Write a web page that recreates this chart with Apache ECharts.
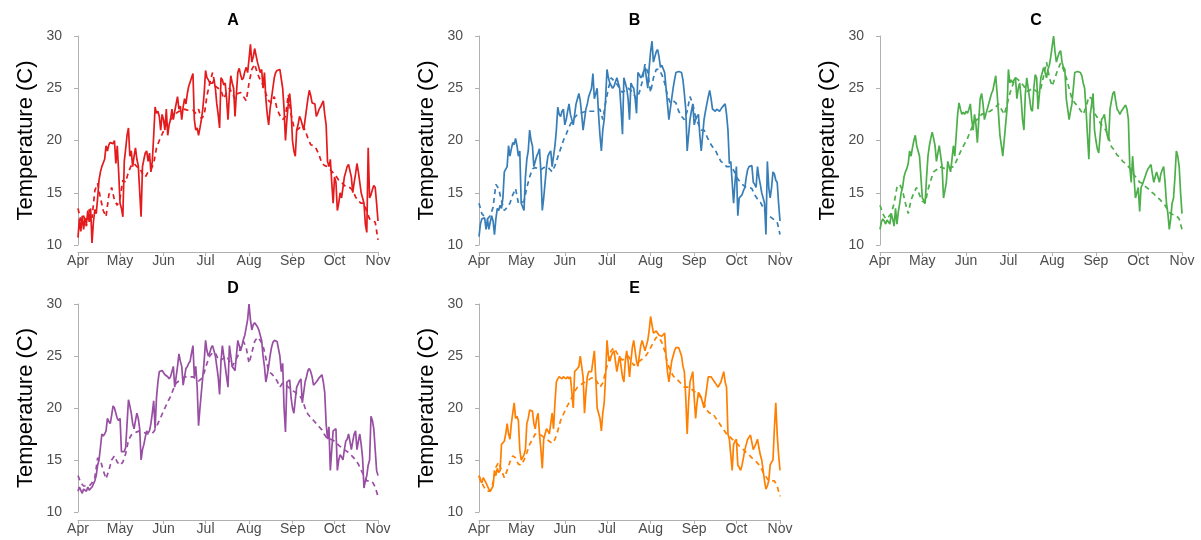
<!DOCTYPE html>
<html>
<head>
<meta charset="utf-8">
<script src="https://cdn.jsdelivr.net/npm/echarts@6/dist/echarts.min.js"></script>
<style>
html,body{margin:0;padding:0;background:#fff;}
#chart{width:1201px;height:540px;}
</style>
</head>
<body>
<div id="chart"></div>
<script>
// ---- data ----
const MONTH_DAYS = [0, 30, 61, 91, 122, 153, 183, 214]; // days since 1 April
const MONTH_LABELS = ['Apr', 'May', 'Jun', 'Jul', 'Aug', 'Sep', 'Oct', 'Nov'];
const SOLID_STEP_DAYS = 1;  // daily readings from 1 April
const DASHED_STEP_DAYS = 2; // every second day from 1 April
const PANEL_TITLES = ['A', 'B', 'C', 'D', 'E'];
const Y_AXIS_TITLE = 'Temperature (C)';

const solidA = [
  10.7, 12.5, 11.3, 12.8, 11.5, 12.6, 12.0, 13.3, 12.2, 13.5,
  10.2, 12.2, 13.4, 13.0, 14.5, 16.2, 17.0, 17.5, 17.5, 18.2,
  19.5, 19.0, 19.6, 19.8, 19.9, 19.7, 20.0, 17.8, 19.5, 17.0,
  14.0, 13.5, 12.7, 18.0, 19.2, 20.5, 21.2, 18.5, 19.0, 17.5,
  18.5, 19.3, 18.2, 17.6, 17.5, 12.7, 17.5, 18.2, 18.8, 19.0,
  18.0, 18.8, 17.0, 18.0, 20.5, 23.2, 22.6, 22.8, 22.3, 21.0,
  22.5, 22.0, 21.0, 23.0, 20.5, 21.5, 22.0, 23.0, 22.0, 22.8,
  23.5, 24.2, 23.0, 23.3, 22.0, 23.2, 24.0, 23.5, 24.5, 25.2,
  25.6, 26.0, 26.4, 22.0, 21.0, 21.2, 20.5, 21.2, 22.0, 23.0,
  24.5, 26.7, 26.0, 25.8, 25.5, 25.6, 25.5, 25.8, 25.0, 23.5,
  22.5, 21.2, 26.0, 25.8, 25.3, 25.5, 24.0, 22.0, 24.5, 26.2,
  25.5, 25.0, 22.3, 24.5, 26.5, 26.9, 26.3, 25.8, 26.0, 26.6,
  27.0, 26.5, 27.8, 29.2, 27.5, 28.0, 28.8, 28.8, 27.5, 27.0,
  26.5, 26.8, 25.0, 26.5, 24.0, 22.5, 21.5, 23.0, 24.0, 25.0,
  26.0, 26.5, 26.7, 26.8, 26.8, 26.7, 25.0, 23.0, 20.0, 22.0,
  23.5, 24.5, 23.0, 20.0, 19.0, 18.5, 21.0, 21.5, 22.3, 22.0,
  21.5, 21.0, 22.0, 23.0, 24.0, 24.8, 24.3, 23.6, 23.7, 23.5,
  22.3, 22.6, 23.0, 23.2, 23.5, 23.8, 22.5, 21.5, 18.0, 17.5,
  18.2, 16.0, 14.0, 16.5, 16.0, 13.3, 14.0, 15.0, 14.5, 15.5,
  16.5, 17.0, 17.5, 17.7, 17.8, 16.5, 15.0, 16.0, 16.8, 17.8,
  17.0, 16.0, 15.0, 14.5, 14.0, 12.0, 11.2, 19.3, 14.5, 14.8,
  15.3, 15.7, 15.5, 14.0, 12.3
];
const dashedA = [
  13.5, 12.3, 12.8, 11.8, 13.4, 12.6, 15.2, 15.9, 14.5, 13.3,
  12.7, 14.8, 15.5, 14.3, 13.8, 14.5, 16.2, 16, 17, 17.6,
  17.8, 17.5, 17.4, 16.8, 16.5, 17, 17.2, 17.8, 19.3, 20,
  20.6, 21.2, 21.8, 22, 22.3, 22.6, 22.8, 22.8, 23, 22.9,
  22.9, 22.9, 22.6, 23, 22.1, 22.4, 24.3, 25.5, 26.5, 25.2,
  25, 24.8, 24, 24.6, 25, 24.5, 24, 24.5, 24.6, 24.2,
  23.8, 25.5, 26.8, 27.3, 26.4, 25.8, 25.3, 24.5, 23.8, 23.6,
  24.2, 23, 22.4, 22, 22.3, 24.4, 22.5, 21.3, 21, 21.2,
  21.5, 21, 20.2, 19.6, 19.5, 19.2, 18.6, 17.8, 17.6, 17.5,
  17.2, 16.9, 16.6, 16.2, 16, 15.7, 15.5, 15.5, 15.2, 14.6,
  14.2, 14, 14, 13.2, 12.5, 12.3, 12.2, 10.5
];
const solidB = [
  10.8, 12.0, 12.5, 12.4, 12.6, 11.5, 12.5, 11.5, 12.2, 12.8,
  12.3, 11.0, 12.5, 13.5, 13.3, 13.8, 13.5, 14.5, 17.0, 17.0,
  17.5, 19.5, 18.5, 19.2, 19.8, 19.6, 20.2, 19.5, 18.5, 19.0,
  14.0, 14.0, 13.3, 16.5, 18.2, 19.0, 21.0, 20.0, 19.5, 17.5,
  18.0, 18.5, 18.8, 19.2, 17.0, 13.3, 14.5, 16.0, 17.5, 18.5,
  18.8, 19.0, 17.5, 18.5, 19.5, 21.0, 23.2, 22.5, 22.3, 22.8,
  23.0, 21.5, 22.0, 22.8, 23.5, 22.5, 22.0, 21.5, 22.5, 23.5,
  24.0, 24.5, 23.8, 22.5, 21.0, 22.0, 23.0, 23.5, 24.2, 24.6,
  25.0, 26.4, 24.0, 24.5, 25.0, 22.5, 20.5, 19.0, 21.0, 22.0,
  24.0, 26.8, 26.0, 25.5, 25.4, 25.0, 25.2, 25.6, 26.0, 25.5,
  25.0, 23.0, 20.6, 26.0, 25.5, 25.0, 24.0, 22.0, 25.5, 25.2,
  25.0, 24.0, 22.6, 26.5, 26.3, 26.0, 26.2, 26.6, 27.0, 26.0,
  25.0, 27.0, 28.5, 29.5, 27.5, 28.0, 28.5, 28.7, 28.0, 27.0,
  27.2, 27.3, 26.5, 25.0, 23.5, 22.0, 23.0, 24.0, 25.0, 25.8,
  26.5, 26.6, 26.6, 26.5, 26.5, 25.8, 24.5, 23.0, 19.0, 20.5,
  22.0, 22.8, 23.5, 21.5, 22.0, 22.3, 22.5, 20.5, 19.0, 20.5,
  22.0, 22.8, 23.5, 24.2, 24.8, 24.0, 23.0, 23.0, 22.8, 23.0,
  23.0, 22.8, 23.0, 23.2, 23.3, 23.5, 22.5, 21.0, 17.8, 18.0,
  16.0, 14.0, 16.0, 17.5, 12.8, 14.5, 14.5, 14.8, 15.2, 15.5,
  16.5, 17.2, 17.5, 17.6, 17.6, 16.0, 15.8, 15.5, 17.5, 16.5,
  15.8, 15.0, 14.5, 14.0, 11.0, 18.0, 15.5, 14.5, 15.5, 17.0,
  16.8, 16.2, 16.0, 14.0, 12.3
];
const dashedB = [
  14, 13, 12.7, 12.5, 12.8, 13.6, 15.8, 15.4, 14.2, 13.3,
  13.6, 14, 14.8, 15.4, 14, 14, 14.2, 15.5, 16.5, 17.3,
  17.4, 17.3, 17.2, 17.4, 17.5, 17.3, 17, 17.6, 18.4, 19.2,
  20, 20.6, 21.3, 21.8, 22.2, 22.5, 22.6, 22.7, 22.8, 22.8,
  22.8, 22.8, 22.9, 23, 22, 23.6, 25, 26, 25.7, 25.4,
  25, 24.6, 24.8, 25, 24.8, 24.4, 24, 24.6, 25.6, 27.3,
  26.5, 24.6, 26, 26.8, 26.8, 26.3, 25.5, 24.3, 23.6, 23.8,
  23.6, 22.8, 22.3, 22, 22.8, 24.2, 23.5, 22.2, 21.6, 21,
  21, 20.4, 19.8, 19.4, 19.1, 18.5, 18, 17.8, 17.5, 17.5,
  17.4, 16.9, 16.3, 16, 15.7, 15.5, 15.5, 15.4, 14.8, 14.4,
  14.1, 13.6, 13, 12.8, 12.6, 12.4, 12.2, 11
];
const solidC = [
  11.5, 12.2, 12.5, 12.3, 12.0, 12.4, 12.5, 12.0, 13.0, 12.5,
  11.8, 13.5, 12.0, 13.2, 14.0, 15.0, 15.5, 16.5, 17.0, 17.3,
  17.8, 19.0, 18.5, 19.3, 20.0, 20.5, 19.5, 19.0, 18.5, 16.5,
  14.5, 14.3, 14.0, 16.5, 18.5, 19.5, 20.2, 20.8, 20.2, 19.5,
  18.0, 18.8, 19.5, 19.5, 17.5, 14.5, 15.2, 16.0, 18.0, 17.5,
  17.0, 18.2, 19.5, 18.5, 20.5, 22.5, 23.6, 23.0, 22.5, 22.7,
  22.5, 22.8, 22.6, 23.0, 23.5, 22.0, 21.0, 22.5, 21.5, 19.8,
  22.0, 24.0, 24.5, 23.5, 22.0, 22.5, 23.0, 23.5, 24.0, 24.5,
  24.8, 25.5, 26.2, 24.5, 22.5, 20.5, 19.5, 18.5, 20.0, 21.5,
  23.0, 26.8, 25.5, 25.8, 25.5, 25.8, 26.0, 24.0, 25.0, 25.5,
  24.0, 22.0, 21.0, 24.5, 26.0, 25.0, 24.0, 23.0, 22.8, 25.0,
  26.3, 26.0, 23.0, 24.5, 26.0, 26.5, 27.0, 26.5, 26.0, 26.8,
  27.2, 28.0, 29.0, 30.0, 28.5, 27.5, 28.0, 28.4, 28.6, 27.5,
  27.0, 26.8, 24.0, 23.0, 22.0, 22.8, 23.5, 25.0, 26.5, 26.6,
  26.6, 26.5, 26.5, 26.2, 25.5, 25.0, 23.0, 20.5, 18.2, 22.5,
  23.5, 24.5, 21.0, 20.0, 19.2, 18.8, 20.5, 22.0, 22.2, 22.5,
  21.5, 20.5, 20.0, 23.0, 23.8, 24.5, 24.7, 23.8, 23.0, 22.8,
  22.5, 22.8, 23.0, 23.2, 23.4, 23.0, 22.0, 17.5, 16.0, 18.5,
  16.5, 14.5, 15.0, 15.5, 13.2, 15.5, 15.8, 16.2, 16.6, 17.0,
  17.3, 17.5, 17.7, 16.8, 16.0, 16.5, 17.0, 16.5, 16.0, 16.8,
  17.2, 17.5, 16.0, 14.0, 13.0, 11.5, 12.5, 14.0, 14.5, 16.5,
  19.0, 18.5, 17.5, 15.0, 13.0
];
const dashedC = [
  13.8, 13, 12.5, 12.7, 13, 14, 15.5, 15.8, 15.2, 14,
  13, 14.3, 15, 15.5, 14.8, 14.2, 14, 15.3, 16.2, 17,
  17.2, 17.5, 17.4, 17.3, 17.3, 17.4, 17.5, 18, 18.6, 19.2,
  19.7, 20.2, 20.9, 21.5, 21.9, 22.2, 22.5, 22.6, 22.7, 22.8,
  23, 23.2, 23.5, 23, 22.5, 23.4, 24.5, 25.3, 26, 25.8,
  25.5, 25.2, 24.7, 24.8, 25, 24.8, 24.6, 25, 26.2, 27.5,
  26, 25.2, 26, 26.8, 27.4, 26.8, 26, 25, 24, 23.6,
  23.3, 22.9, 22.5, 23.2, 24.2, 24, 22.6, 22.2, 21.7, 21.3,
  21, 20.3, 19.4, 19.1, 18.6, 18.4, 18, 17.8, 17.5, 17.2,
  16.7, 16.4, 16, 15.9, 15.6, 15.4, 15.1, 14.9, 14.6, 14.4,
  14.1, 13.8, 13.3, 13, 12.9, 12.8, 12.5, 11.5
];
const solidD = [
  12.0, 12.4, 12.3, 11.8, 12.2, 12.3, 12.0, 12.4, 12.1, 12.2,
  12.4, 12.5, 13.0, 13.5, 14.5, 15.0, 16.2, 17.5, 17.3, 17.5,
  17.8, 19.0, 18.7, 18.5, 19.3, 20.2, 20.0, 19.5, 19.0, 18.8,
  19.0, 15.8, 15.7, 15.8, 16.2, 18.5, 20.8, 20.2, 19.5, 18.5,
  18.0, 18.8, 19.5, 19.0, 18.0, 15.0, 16.0, 16.5, 17.2, 17.8,
  17.6, 17.8, 18.5, 19.5, 20.7, 18.0, 21.0, 22.5, 23.5, 23.4,
  23.6, 23.5, 23.2, 23.2, 23.0, 22.8, 23.0, 23.5, 24.0, 22.0,
  23.0, 24.0, 25.2, 24.5, 24.0, 22.2, 23.0, 23.8, 24.0, 24.3,
  24.5, 25.3, 26.0, 23.0, 24.0, 22.0, 18.3, 20.0, 21.5, 23.0,
  24.5, 26.5, 25.5, 25.0, 25.3, 25.8, 26.0, 25.5, 25.0, 24.0,
  23.0, 21.3, 24.5, 26.0, 25.0, 24.0, 23.0, 22.0, 26.0, 25.0,
  24.0, 23.8, 23.6, 23.5, 26.5, 26.0, 25.5, 26.0, 26.6, 27.0,
  27.0, 28.5, 30.0, 28.5, 27.5, 28.0, 28.2, 28.0, 27.8, 27.5,
  27.0, 26.5, 25.0, 24.0, 22.5, 23.2, 24.0, 25.0, 25.8, 26.3,
  26.5, 26.5, 26.4, 26.4, 25.0, 23.5, 24.3, 20.0, 17.7, 22.5,
  22.6, 22.7, 21.0, 20.0, 19.5, 20.8, 22.0, 22.3, 22.6, 22.8,
  20.5, 21.5, 22.5, 23.0, 23.6, 23.8, 23.5, 23.0, 22.2, 22.3,
  22.5, 22.7, 22.9, 23.0, 23.2, 22.5, 21.5, 18.5, 17.0, 18.2,
  14.0, 16.0, 17.8, 17.9, 18.0, 14.0, 15.0, 15.5, 15.3, 15.0,
  16.0, 16.8, 17.0, 17.5, 16.8, 16.0, 16.8, 17.5, 17.8, 16.0,
  16.8, 17.5, 16.5, 15.2, 12.3, 13.0, 13.5, 14.5, 15.0, 19.2,
  18.8, 18.0, 16.0, 14.0, 13.5
];
const dashedD = [
  13.5, 12.8, 12.5, 12.5, 12.5, 12.8, 13.3, 15.2, 15, 14,
  13.2, 14, 15, 15.4, 14.8, 14.5, 14.8, 15.6, 16.9, 17.4,
  17.6, 17.7, 17.8, 17.7, 17.6, 17.5, 17.5, 17.7, 18.2, 18.8,
  19.4, 20, 20.6, 21.1, 21.8, 22.4, 22.6, 22.8, 23, 23,
  23, 23, 22.8, 22.6, 22.8, 23.4, 24.3, 25, 25.3, 25.3,
  24.7, 24.6, 24.8, 25, 24.5, 24, 24.5, 25, 25.8, 26.4,
  25.8, 24.3, 25.3, 26.4, 26.8, 26.5, 26, 24.8, 23.5, 23.3,
  23, 22.6, 22, 22.4, 22.3, 22, 21.8, 21.6, 21.4, 21.2,
  20.8, 20, 19.4, 19.1, 18.8, 18.5, 18.2, 17.9, 17.4, 17,
  17, 16.9, 16.7, 16.4, 16.2, 16, 15.8, 15.6, 15.3, 15,
  14.6, 14, 13.5, 13, 13, 12.9, 12.4, 11.5
];
const solidE = [
  13.5, 13.0, 12.8, 13.3, 13.2, 12.8, 12.5, 12.2, 12.0, 12.0,
  12.5, 14.0, 13.5, 14.2, 13.8, 14.0, 16.5, 16.6, 16.8, 17.5,
  18.5, 17.5, 17.0, 18.5, 19.5, 20.5, 19.0, 19.2, 18.8, 16.0,
  15.0, 15.0, 15.5, 16.0, 18.5, 19.0, 19.8, 19.8, 19.7, 18.5,
  18.0, 19.0, 19.5, 17.5, 16.0, 14.2, 17.0, 17.5, 18.0, 17.8,
  17.5, 18.5, 19.5, 18.0, 20.5, 22.5, 22.8, 23.0, 23.0, 22.8,
  23.0, 23.0, 22.8, 23.0, 22.8, 23.0, 21.5, 20.0, 23.5, 23.5,
  23.8, 24.0, 25.0, 24.0, 23.0, 19.5, 21.5, 23.0, 23.5, 23.5,
  23.5, 24.5, 25.5, 23.0, 20.0, 19.5, 19.0, 17.8, 19.5, 20.5,
  23.0, 26.5, 25.0, 24.5, 25.0, 25.3, 25.5, 24.5, 23.5, 24.3,
  25.0, 24.0, 23.0, 22.5, 24.5, 25.5, 24.5, 23.0, 24.5, 25.8,
  26.5, 25.5, 24.5, 24.0, 25.0, 26.0, 26.5, 26.0, 25.5, 26.0,
  26.5, 27.5, 28.8, 28.0, 27.2, 27.3, 27.4, 27.3, 27.0, 27.0,
  26.9, 26.8, 27.2, 25.0, 23.5, 22.5, 23.5, 24.5, 25.0, 25.5,
  25.8, 25.8, 25.8, 25.8, 25.0, 24.0, 23.5, 21.0, 17.5, 20.5,
  22.5, 23.0, 23.5, 21.0, 19.0, 20.5, 21.5, 21.3, 21.0, 20.5,
  20.0, 21.0, 22.0, 23.0, 23.0, 23.0, 22.8, 22.6, 22.5, 22.2,
  22.0, 22.0, 22.5, 23.0, 23.5, 22.5, 22.0, 17.5, 17.0, 15.5,
  14.0, 16.5, 16.8, 17.0, 14.5, 14.3, 14.0, 14.5, 15.2, 16.0,
  16.5, 17.0, 17.2, 17.4, 17.5, 16.0, 16.3, 16.6, 17.0, 16.2,
  15.5, 15.0, 14.0, 13.0, 12.2, 12.5, 13.0, 14.5, 14.8, 15.0,
  18.0, 20.5, 17.5, 15.5, 14.0
];
const dashedE = [
  13.5, 12.8, 12.3, 12, 12, 12.8, 14.3, 14.8, 14, 13.3,
  14, 14.8, 15.4, 15.2, 14.6, 14.5, 15, 15.7, 16.5, 17,
  17.5, 17.5, 17.4, 17.2, 17, 16.8, 16.6, 17, 17.8, 18.8,
  19.4, 20, 20.5, 21, 21.6, 22, 22.2, 22.4, 22.5, 22.7,
  22.9, 22.9, 22.5, 22, 22.4, 23.5, 24.5, 25.5, 25.8, 25.3,
  24.9, 24.6, 24.8, 25, 24.6, 24.1, 24.3, 24.5, 24.7, 24.9,
  25.3, 25.8, 26.3, 26.8, 26.8, 26.3, 25.5, 24.3, 23.6, 23.1,
  22.8, 22.6, 22.3, 22, 22, 22, 21.7, 21.5, 21.2, 21,
  20.4, 19.8, 19.5, 19.5, 19.1, 18.7, 18.3, 17.9, 17.5, 17.3,
  17, 16.8, 16.5, 16.2, 16, 15.7, 15.5, 15.2, 15, 14.7,
  14.4, 13.8, 13.4, 13, 13, 13, 12.5, 11.5
];

// ---- styling / layout ----
const SOLID = [solidA, solidB, solidC, solidD, solidE];
const DASHED = [dashedA, dashedB, dashedC, dashedD, dashedE];
const COLORS = ['#E41A1C', '#377EB8', '#4DAF4A', '#984EA3', '#FF7F00'];
const FONT = 'Liberation Sans, Arial, Helvetica, sans-serif';
const AXIS_GREY = '#b0b0b0';
const LAYOUT = [
  { left: 78, top: 36, width: 300, height: 209, xOff: 7 },
  { left: 479, top: 36, width: 301, height: 209, xOff: 7 },
  { left: 880, top: 36, width: 302, height: 209, xOff: 7 },
  { left: 78, top: 304, width: 300, height: 208, xOff: 8 },
  { left: 479, top: 304, width: 301, height: 208, xOff: 8 }
];

function toPairs(arr, step) {
  return arr.map((v, i) => [i * step, v]);
}

const grids = [], xAxes = [], yAxes = [], series = [], titles = [];
LAYOUT.forEach((g, i) => {
  grids.push({ left: g.left, top: g.top, width: g.width, height: g.height, containLabel: false });
  titles.push({
    text: PANEL_TITLES[i],
    left: g.left + g.width / 2,
    top: g.top - 28,
    textAlign: 'center',
    textStyle: { fontFamily: FONT, fontSize: 16, fontWeight: 'bold', color: '#000' }
  });
  xAxes.push({
    type: 'value', gridIndex: i, min: MONTH_DAYS[0], max: MONTH_DAYS[MONTH_DAYS.length - 1],
    offset: g.xOff,
    axisLine: { show: true, lineStyle: { color: AXIS_GREY, width: 1 } },
    axisTick: { show: true, length: 4, lineStyle: { color: AXIS_GREY }, customValues: MONTH_DAYS },
    axisLabel: {
      customValues: MONTH_DAYS, margin: 2, color: '#4d4d4d', fontFamily: FONT, fontSize: 14,
      formatter: (v) => MONTH_LABELS[MONTH_DAYS.indexOf(Math.round(v))]
    },
    splitLine: { show: false }
  });
  yAxes.push({
    type: 'value', gridIndex: i, min: 10, max: 30, interval: 5, offset: 12,
    name: Y_AXIS_TITLE, nameLocation: 'middle', nameRotate: 90, nameGap: 29,
    nameTextStyle: { fontFamily: FONT, fontSize: 22, color: '#000' },
    axisLine: { show: true, lineStyle: { color: AXIS_GREY, width: 1 } },
    axisTick: { show: true, length: 4, lineStyle: { color: AXIS_GREY } },
    axisLabel: { margin: 4, color: '#4d4d4d', fontFamily: FONT, fontSize: 14 },
    splitLine: { show: false }
  });
  series.push({
    type: 'line', xAxisIndex: i, yAxisIndex: i, data: toPairs(DASHED[i], DASHED_STEP_DAYS),
    symbol: 'none', clip: false, silent: true,
    lineStyle: { color: COLORS[i], width: 1.7, type: [5, 4] }
  });
  series.push({
    type: 'line', xAxisIndex: i, yAxisIndex: i, data: toPairs(SOLID[i], SOLID_STEP_DAYS),
    symbol: 'none', clip: false, silent: true,
    lineStyle: { color: COLORS[i], width: 1.7 }
  });
});

const chart = echarts.init(document.getElementById('chart'), null, { renderer: 'canvas' });
chart.setOption({
  animation: false,
  backgroundColor: '#ffffff',
  title: titles,
  grid: grids,
  xAxis: xAxes,
  yAxis: yAxes,
  series: series
});
</script>
</body>
</html>
